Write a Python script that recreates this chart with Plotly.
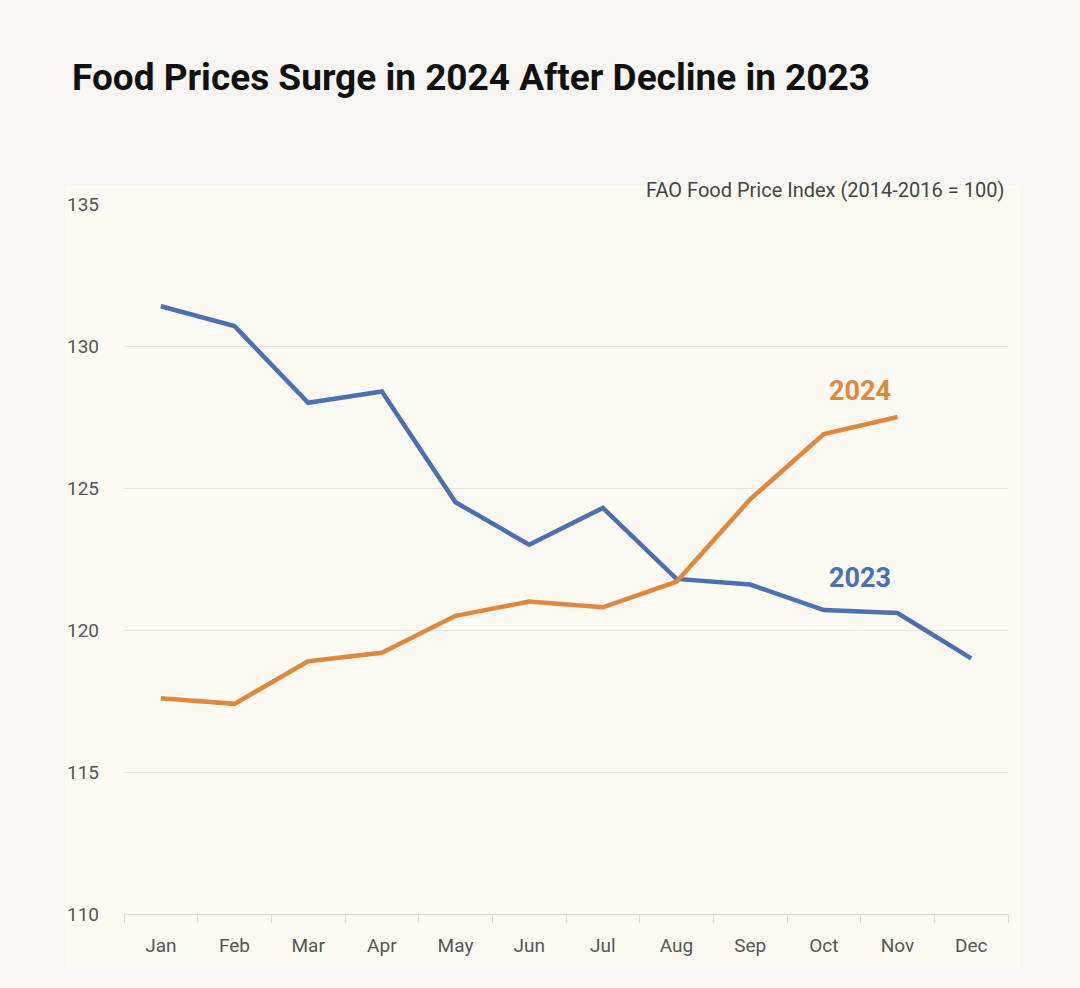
import plotly.graph_objects as go

months = ["Jan", "Feb", "Mar", "Apr", "May", "Jun", "Jul", "Aug", "Sep", "Oct", "Nov", "Dec"]
values_2023 = [131.4, 130.7, 128.0, 128.4, 124.5, 123.0, 124.3, 121.8, 121.6, 120.7, 120.6, 119.0]
values_2024 = [117.6, 117.4, 118.9, 119.2, 120.5, 121.0, 120.8, 121.7, 124.6, 126.9, 127.5]
y_ticks = [110, 115, 120, 125, 130, 135]

BLUE = "#4a70b4"
ORANGE = "#e0873e"
FONT = "Roboto"

fig = go.Figure()
fig.add_trace(go.Scatter(x=months, y=values_2023, mode="lines",
                         line=dict(color=BLUE, width=4.5), name="2023", showlegend=False))
fig.add_trace(go.Scatter(x=months[:len(values_2024)], y=values_2024, mode="lines",
                         line=dict(color=ORANGE, width=4.5), name="2024", showlegend=False))

W, H = 1080, 988
L, R, T, B = 124, 72, 204, 74
pw, ph = W - L - R, H - T - B

def px_x(p):
    return (p - L) / pw

def px_y(p):
    return (H - B - p) / ph

fig.add_shape(type="rect", xref="paper", yref="paper",
              x0=px_x(65), x1=px_x(1020), y0=px_y(968), y1=px_y(185),
              fillcolor="#fcf9f3", line=dict(width=0), layer="below")

fig.add_annotation(xref="paper", yref="paper", x=px_x(1006), y=px_y(190),
                   text="FAO Food Price Index (2014-2016 = 100)", showarrow=False,
                   xanchor="right", yanchor="middle",
                   font=dict(family=FONT, size=20, color="#444444"))
fig.add_annotation(xref="paper", yref="paper", x=px_x(860), y=px_y(391),
                   text="<b>2024</b>", showarrow=False,
                   xanchor="center", yanchor="middle",
                   font=dict(family=FONT, size=27, color=ORANGE))
fig.add_annotation(xref="paper", yref="paper", x=px_x(860), y=px_y(578),
                   text="<b>2023</b>", showarrow=False,
                   xanchor="center", yanchor="middle",
                   font=dict(family=FONT, size=27, color=BLUE))

fig.update_layout(
    width=W, height=H,
    margin=dict(l=L, r=R, t=T, b=B, pad=0),
    paper_bgcolor="#f6f5f1",
    plot_bgcolor="#fcf9f3",
    title=dict(text="<b>Food Prices Surge in 2024 After Decline in 2023</b>",
               x=72 / W, xanchor="left", y=1 - 77 / H, yanchor="middle",
               font=dict(family=FONT, size=37, color="#111111")),
    font=dict(family=FONT),
    xaxis=dict(type="category", categoryorder="array", categoryarray=months,
               range=[-0.5, 11.5], tickson="boundaries", ticks="outside",
               ticklen=8, tickcolor="#dddad3", showgrid=False,
               showline=True, linecolor="#e2dfd8", linewidth=1,
               tickfont=dict(family=FONT, size=19, color="#555555"),
               ticklabelstandoff=14, zeroline=False),
    yaxis=dict(range=[110, 135], tickvals=y_ticks, ticktext=[str(v) for v in y_ticks],
               showgrid=True, gridcolor="#e8e5de", gridwidth=1, zeroline=False,
               showline=False, ticks="", tickfont=dict(family=FONT, size=19, color="#555555"),
               ticklabelstandoff=24),
)

fig.write_html("out.html")
